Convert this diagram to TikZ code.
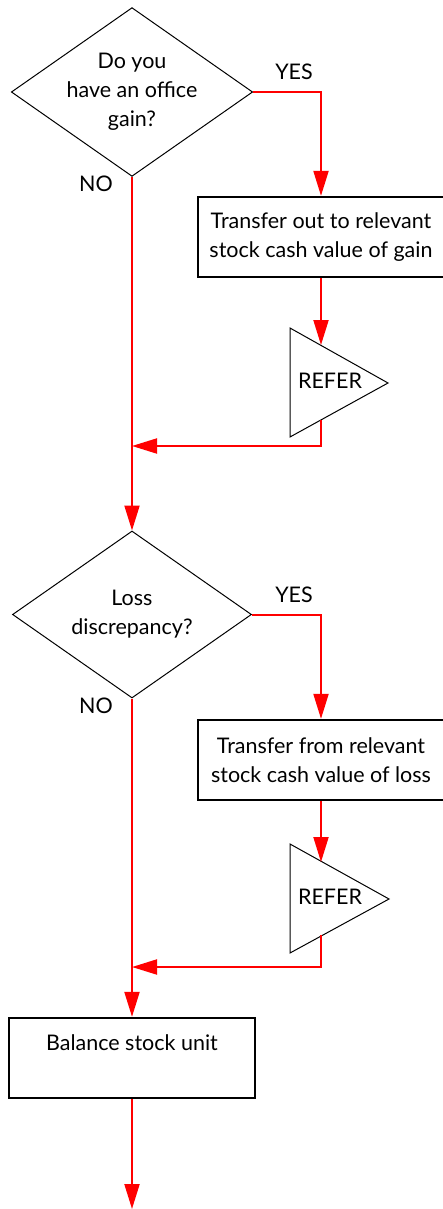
\documentclass[tikz,border=0pt]{standalone}
\usepackage{fontspec}
\setmainfont{Lato}
\usetikzlibrary{shapes.geometric,arrows.meta}

\tikzset{
  decision/.style={draw=black, line width=1pt, diamond, inner sep=0pt,
    align=center, minimum width=239pt, minimum height=167pt, shape aspect=1.43},
  procbox/.style={draw=black, line width=2.3pt, rectangle, align=center,
    minimum width=246pt, minimum height=80pt, inner sep=0pt},
  referbox/.style={draw=black, line width=1pt, line join=miter},
  label/.style={inner sep=0pt, font=\fontsize{21.5}{29}\selectfont},
  flow/.style={draw=red, line width=2pt},
  flowarrow/.style={flow, -{Triangle[length=25pt, width=15pt]}},
}

\begin{document}
\begin{tikzpicture}[x=1pt, y=-1pt, font=\fontsize{21.5}{29}\selectfont]
  \useasboundingbox (0,0) rectangle (443,1209);

  % first decision and its YES branch
  \node[decision] (q1) at (132,92) {Do you\\have an office\\gain?};
  \node[label] (yes1) at (294,72) {YES};
  \node[label] (no1) at (96,184) {NO};
  \node[procbox] (b1) at (321,237) {Transfer out to relevant\\stock cash value of gain};

  \draw[referbox] (290,328) -- (388,383) -- (290,437) -- cycle;
  \node[label] (r1) at (330,381) {REFER};
  \coordinate (r1in) at (321,345);
  \coordinate (r1out) at (321,420);
  \coordinate (m1) at (132,446);

  % second decision and its YES branch
  \node[decision] (q2) at (132,614.5) {Loss\\discrepancy?};
  \node[label] (yes2) at (294,595) {YES};
  \node[label] (no2) at (96,706) {NO};
  \node[procbox] (b2) at (321,760) {Transfer from relevant\\stock cash value of loss};

  \draw[referbox] (290,844) -- (389,899) -- (290,953) -- cycle;
  \node[label] (r2) at (330,897) {REFER};
  \coordinate (r2in) at (321,862);
  \coordinate (r2out) at (321,935);
  \coordinate (m2) at (132,967);

  % final step
  \node[procbox, minimum width=246pt] (b3) at (132,1058) {};
  \node[label] (b3t) at (132,1043) {Balance stock unit};
  \coordinate (end) at (132,1209);

  % connectors
  \draw[flowarrow] (q1.east) -| (b1.north);
  \draw[flowarrow] (b1.south) -- (r1in);
  \draw[flowarrow] (r1out) |- (m1);
  \draw[flowarrow] (q1.south) -- (q2.north);

  \draw[flowarrow] (q2.east) -| (b2.north);
  \draw[flowarrow] (b2.south) -- (r2in);
  \draw[flowarrow] (r2out) |- (m2);
  \draw[flowarrow] (q2.south) -- (b3.north);

  \draw[flowarrow] (b3.south) -- (end);
\end{tikzpicture}
\end{document}
